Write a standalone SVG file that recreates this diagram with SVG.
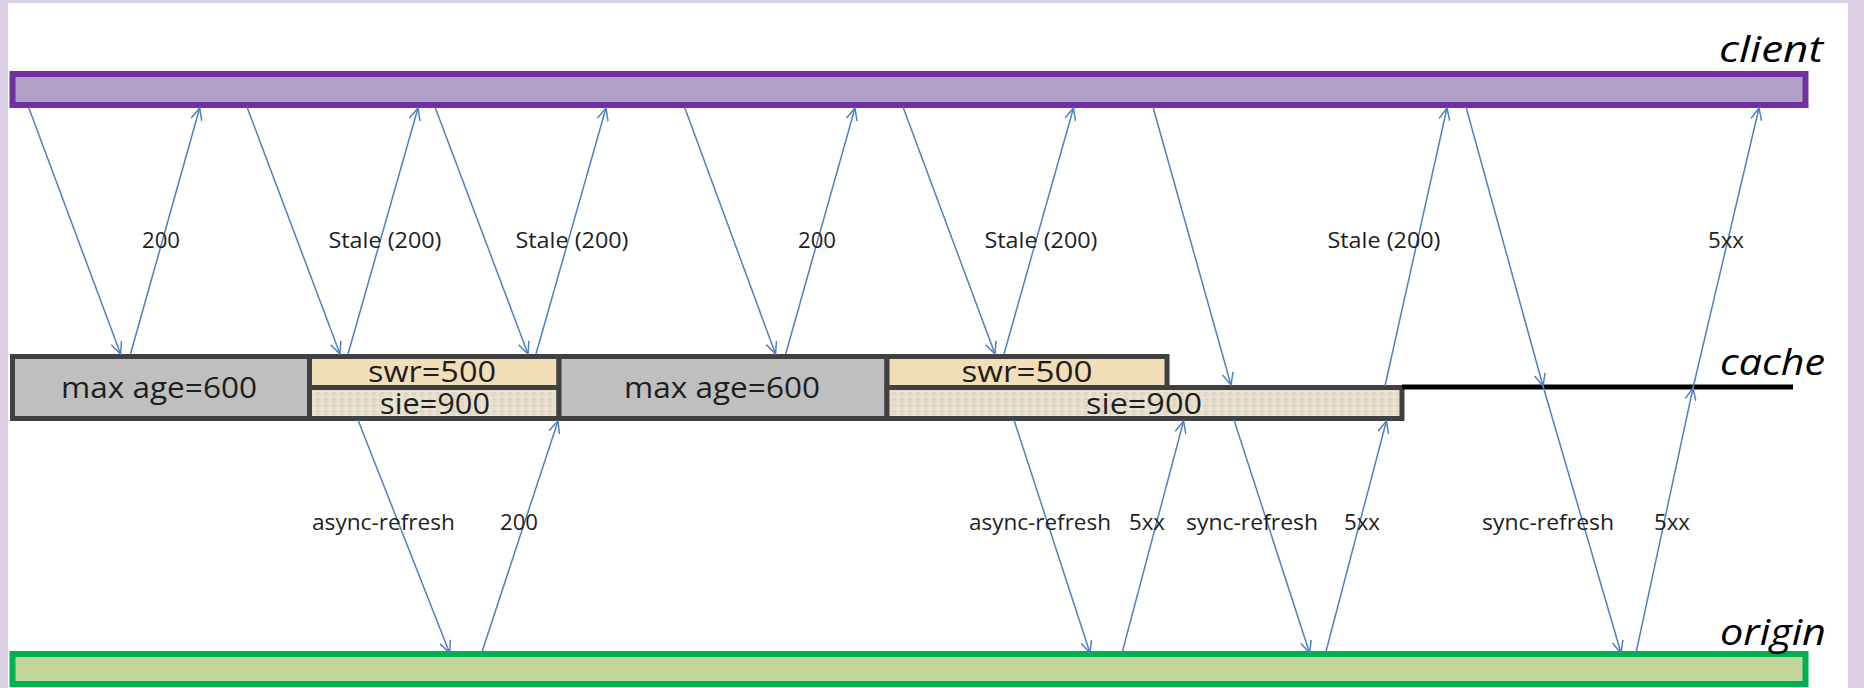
<svg xmlns="http://www.w3.org/2000/svg" width="1864" height="688" viewBox="0 0 1864 688">
<style>
.lbl{font-family:"Open Sans","DejaVu Sans",sans-serif;font-size:21px;fill:#1e1e1e;text-anchor:middle}
.box{font-family:"Open Sans","DejaVu Sans",sans-serif;font-size:30px;fill:#1e1e1e;text-anchor:middle}
.ttl{font-family:"Open Sans","Liberation Sans",sans-serif;font-style:italic;font-size:37px;fill:#000;text-anchor:end}
.arr{stroke:#4f81bd;stroke-width:1.5;fill:none;marker-end:url(#ah)}
.cb{stroke:#404040;stroke-width:5}
</style>
<defs>
<marker id="ah" viewBox="0 0 14 12" refX="13" refY="6" markerWidth="14" markerHeight="12" markerUnits="userSpaceOnUse" orient="auto">
<path d="M1,0.5 L13,6 L1,11.5" fill="none" stroke="#4f81bd" stroke-width="1.5"/>
</marker>
<pattern id="tex" width="8" height="6" patternUnits="userSpaceOnUse">
<rect width="8" height="6" fill="#e4dccb"/>
<path d="M0,1.5 H8 M2,0 V6" stroke="#eee8dc" stroke-width="1"/>
<path d="M5,3.5 H8 M6,0 V3" stroke="#d6ccb6" stroke-width="0.8"/>
</pattern>
</defs>
<rect width="1864" height="688" fill="#dcd0e6"/>
<rect x="8" y="3" width="1840" height="685" fill="#ffffff"/>

<g id="client">
<rect x="12.5" y="74" width="1793" height="31" fill="#b1a0c7" stroke="#7030a0" stroke-width="6"/>
<text class="ttl" x="1823" y="62" textLength="104" lengthAdjust="spacingAndGlyphs">client</text>
</g>

<g id="origin">
<rect x="12.5" y="654" width="1793" height="30" fill="#c3d69b" stroke="#00b050" stroke-width="6"/>
<text class="ttl" x="1826" y="645" textLength="106" lengthAdjust="spacingAndGlyphs">origin</text>
</g>

<g id="cache">
<rect class="cb" x="12.5" y="356.5" width="297" height="62" fill="#bfbfbf"/>
<rect class="cb" x="309.5" y="356.5" width="249.5" height="31" fill="#f1ddb6"/>
<rect class="cb" x="309.5" y="387.5" width="249.5" height="31" fill="url(#tex)"/>
<rect class="cb" x="559" y="356.5" width="328" height="62" fill="#bfbfbf"/>
<rect class="cb" x="887" y="356.5" width="280" height="31" fill="#f1ddb6"/>
<rect class="cb" x="887" y="387.5" width="515" height="31" fill="url(#tex)"/>
<line x1="1402" y1="387" x2="1793" y2="387" stroke="#000" stroke-width="5"/>
<text class="box" x="159" y="398" textLength="196" lengthAdjust="spacingAndGlyphs">max age=600</text>
<text class="box" x="432" y="382" textLength="128" lengthAdjust="spacingAndGlyphs">swr=500</text>
<text class="box" x="435" y="414" textLength="110" lengthAdjust="spacingAndGlyphs">sie=900</text>
<text class="box" x="722" y="398" textLength="196" lengthAdjust="spacingAndGlyphs">max age=600</text>
<text class="box" x="1027" y="382" textLength="131" lengthAdjust="spacingAndGlyphs">swr=500</text>
<text class="box" x="1144" y="414" textLength="116" lengthAdjust="spacingAndGlyphs">sie=900</text>
<text class="ttl" x="1825" y="375" textLength="105" lengthAdjust="spacingAndGlyphs">cache</text>
</g>

<g id="connectors">
<line class="arr" x1="28.5" y1="107" x2="120.6" y2="354"/>
<line class="arr" x1="130.5" y1="354" x2="199.7" y2="108"/>
<line class="arr" x1="247" y1="107" x2="340" y2="354"/>
<line class="arr" x1="348" y1="354" x2="418" y2="108"/>
<line class="arr" x1="435" y1="107" x2="528" y2="354"/>
<line class="arr" x1="536" y1="354" x2="606" y2="108"/>
<line class="arr" x1="684.5" y1="107" x2="775.5" y2="354"/>
<line class="arr" x1="785.7" y1="354" x2="855" y2="108"/>
<line class="arr" x1="903" y1="107" x2="995" y2="354"/>
<line class="arr" x1="1004" y1="354" x2="1073.5" y2="108"/>
<line class="arr" x1="1153" y1="107" x2="1231" y2="385"/>
<line class="arr" x1="1385" y1="386" x2="1447" y2="108"/>
<line class="arr" x1="1466" y1="107" x2="1543" y2="386"/>
<line class="arr" x1="1543" y1="386" x2="1621" y2="653"/>
<line class="arr" x1="1636" y1="653" x2="1693" y2="388"/>
<line class="arr" x1="1693" y1="388" x2="1759" y2="108"/>
<line class="arr" x1="358" y1="420" x2="449.6" y2="653"/>
<line class="arr" x1="481.6" y1="653" x2="558" y2="421"/>
<line class="arr" x1="1014" y1="420" x2="1090" y2="653"/>
<line class="arr" x1="1122" y1="653" x2="1183.6" y2="421"/>
<line class="arr" x1="1234" y1="420" x2="1309.6" y2="653"/>
<line class="arr" x1="1325.6" y1="653" x2="1386.4" y2="421"/>
</g>

<g id="labels">
<text class="lbl" x="161" y="248" textLength="38" lengthAdjust="spacingAndGlyphs">200</text>
<text class="lbl" x="385" y="248" textLength="113" lengthAdjust="spacingAndGlyphs">Stale (200)</text>
<text class="lbl" x="572" y="248" textLength="113" lengthAdjust="spacingAndGlyphs">Stale (200)</text>
<text class="lbl" x="817" y="248" textLength="38" lengthAdjust="spacingAndGlyphs">200</text>
<text class="lbl" x="1041" y="248" textLength="113" lengthAdjust="spacingAndGlyphs">Stale (200)</text>
<text class="lbl" x="1384" y="248" textLength="113" lengthAdjust="spacingAndGlyphs">Stale (200)</text>
<text class="lbl" x="1726" y="248" textLength="36" lengthAdjust="spacingAndGlyphs">5xx</text>
<text class="lbl" x="383.5" y="530" textLength="143" lengthAdjust="spacingAndGlyphs">async-refresh</text>
<text class="lbl" x="519" y="530" textLength="38" lengthAdjust="spacingAndGlyphs">200</text>
<text class="lbl" x="1040" y="530" textLength="142" lengthAdjust="spacingAndGlyphs">async-refresh</text>
<text class="lbl" x="1147" y="530" textLength="36" lengthAdjust="spacingAndGlyphs">5xx</text>
<text class="lbl" x="1252" y="530" textLength="132" lengthAdjust="spacingAndGlyphs">sync-refresh</text>
<text class="lbl" x="1362" y="530" textLength="36" lengthAdjust="spacingAndGlyphs">5xx</text>
<text class="lbl" x="1548" y="530" textLength="132" lengthAdjust="spacingAndGlyphs">sync-refresh</text>
<text class="lbl" x="1672" y="530" textLength="36" lengthAdjust="spacingAndGlyphs">5xx</text>
</g>
</svg>
